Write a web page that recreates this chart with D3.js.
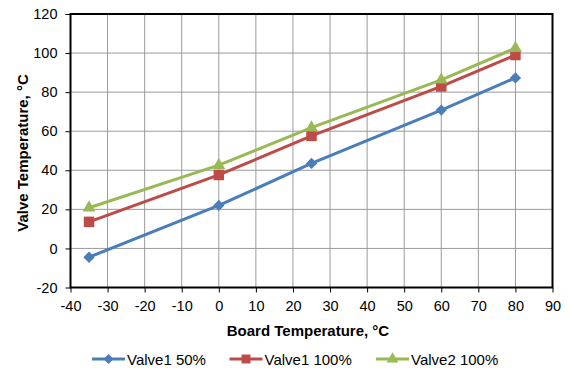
<!DOCTYPE html>
<html><head><meta charset="utf-8">
<script src="https://cdn.jsdelivr.net/npm/d3@7"></script>
<style>body{margin:0;background:#fff}svg{display:block}text{font-family:"Liberation Sans",Arial,sans-serif}</style>
</head><body><svg id="c" width="569" height="372"></svg>
<script>
const xValues = [-35, 0, 25, 60, 80];
const seriesNames = ["Valve1 50%", "Valve1 100%", "Valve2 100%"];
const valve1_50 = [-4.5, 22, 43.5, 70.8, 87.3];
const valve1_100 = [13.6, 37.6, 57.6, 82.9, 99];
const valve2_100 = [20.8, 42.6, 61.8, 86.3, 102.5];
const xTicks = [-40,-30,-20,-10,0,10,20,30,40,50,60,70,80,90];
const yTicks = [-20,0,20,40,60,80,100,120];
const colors = ["#4A7EBB", "#BE4B48", "#98B954"];
const markers = [d3.symbolSquare, d3.symbolSquare, d3.symbolTriangle];
const rot = [45, 0, 0];
const msize = [64, 110, 72];
const lsize = [52, 80, 60];

const svg = d3.select("#c");
const L=70.5, R=552.5, T=14, B=287.5;
const x = d3.scaleLinear().domain([-40,90]).range([L,R]);
const y = d3.scaleLinear().domain([-20,120]).range([B,T]);

// grid
svg.append("g").selectAll("line").data(xTicks).join("line")
  .attr("x1",d=>x(d)).attr("x2",d=>x(d)).attr("y1",T).attr("y2",B)
  .attr("stroke","#9a9a9a").attr("stroke-width",1);
svg.append("g").selectAll("line").data(yTicks).join("line")
  .attr("x1",L).attr("x2",R).attr("y1",d=>y(d)).attr("y2",d=>y(d))
  .attr("stroke","#9a9a9a").attr("stroke-width",1);

// axes
const fmt = d=>String(d);
const xa = svg.append("g").attr("transform",`translate(0,${B})`)
  .call(d3.axisBottom(x).tickValues(xTicks).tickFormat(fmt).tickSize(5).tickPadding(8));
const ya = svg.append("g").attr("transform",`translate(${L},0)`)
  .call(d3.axisLeft(y).tickValues(yTicks).tickFormat(fmt).tickSize(5).tickPadding(8));
[xa,ya].forEach(a=>{
  a.select(".domain").remove();
  a.selectAll(".tick line").attr("stroke","#000");
  a.selectAll("text").attr("font-size",14.5).attr("fill","#000").attr("font-family","Liberation Sans, Arial, sans-serif");
});

// frame
svg.append("rect").attr("x",L).attr("y",T).attr("width",R-L).attr("height",B-T)
  .attr("fill","none").attr("stroke","#000").attr("stroke-width",2);

// series
const all = [valve1_50, valve1_100, valve2_100];
const line = d3.line().x((d,i)=>x(xValues[i])).y(d=>y(d));
all.forEach((vals,k)=>{
  svg.append("path").datum(vals).attr("d",line).attr("fill","none")
    .attr("stroke",colors[k]).attr("stroke-width",3);
  svg.append("g").selectAll("path").data(vals).join("path")
    .attr("transform",(d,i)=>`translate(${x(xValues[i])},${y(d)}) rotate(${rot[k]})`)
    .attr("d",d3.symbol().type(markers[k]).size(msize[k]))
    .attr("fill",colors[k]);
});

// axis titles
svg.append("text").attr("x",308).attr("y",336).attr("text-anchor","middle")
  .attr("font-size",15).attr("font-weight","bold").text("Board Temperature, °C");
svg.append("text").attr("transform","translate(27.5,153) rotate(-90)").attr("text-anchor","middle")
  .attr("font-size",15).attr("font-weight","bold").text("Valve Temperature, °C");

// legend
const lx = [92, 229.5, 376];
seriesNames.forEach((n,k)=>{
  const g = svg.append("g").attr("transform",`translate(${lx[k]},359)`);
  g.append("line").attr("x1",0).attr("x2",33).attr("stroke",colors[k]).attr("stroke-width",3);
  g.append("path").attr("transform",`translate(16.5,0) rotate(${rot[k]})`)
    .attr("d",d3.symbol().type(markers[k]).size(lsize[k])).attr("fill",colors[k]);
  g.append("text").attr("x",35).attr("y",5.5).attr("font-size",15).text(n);
});
</script></body></html>
